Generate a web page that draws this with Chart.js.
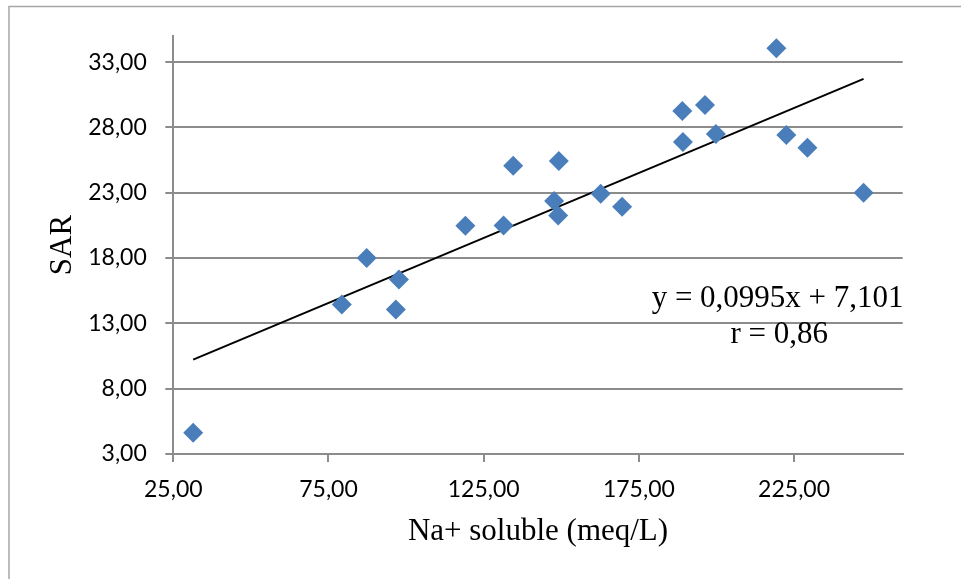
<!DOCTYPE html>
<html>
<head>
<meta charset="utf-8">
<script src="https://cdn.jsdelivr.net/npm/chart.js@4/dist/chart.umd.min.js"></script>
<style>
  html, body { margin: 0; padding: 0; background: #fff; }
  canvas { display: block; }
</style>
</head>
<body>
<canvas id="myChart" width="961" height="579"></canvas>
<script>
// Na+ soluble (meq/L) vs SAR
const naSoluble = [31.4, 79.3, 87.3, 96.7, 97.7, 119.1, 131.4, 134.5, 147.7, 149.0, 149.2,
                   162.7, 169.6, 189.0, 189.2, 196.3, 199.8, 219.3, 222.5, 229.3, 247.4];
const sar = [4.63, 14.45, 18.0, 14.07, 16.36, 20.48, 20.5, 25.06, 22.36, 21.26, 25.44,
             22.92, 21.93, 29.26, 26.89, 29.72, 27.5, 34.07, 27.43, 26.44, 23.0];

const xTicks = [25, 75, 125, 175, 225];
const yTicks = [3, 8, 13, 18, 23, 28, 33];

// trend line shown on the chart
const slope = 0.0995;
const intercept = 7.101;
const eqText = 'y = 0,0995x + 7,101';
const rText = 'r = 0,86';

const xMin = Math.min(...naSoluble);
const xMax = Math.max(...naSoluble);
const trend = [
  { x: xMin, y: slope * xMin + intercept },
  { x: xMax, y: slope * xMax + intercept }
];

const points = naSoluble.map((v, i) => ({ x: v, y: sar[i] }));

const fmt = v => Number(v).toFixed(2).replace('.', ',');
const serif = 'Liberation Serif';
const gridColor = '#8c8c8c';

// gray frame round the chart + equation text
const extras = {
  id: 'extras',
  beforeDraw(chart) {
    const ctx = chart.ctx;
    ctx.save();
    ctx.strokeStyle = '#a6a6a6';
    ctx.lineWidth = 1.5;
    ctx.strokeRect(9, 6.5, 1000, 1000);
    ctx.restore();
  },
  afterDraw(chart) {
    const ctx = chart.ctx;
    const xs = chart.scales.x, ys = chart.scales.y;
    ctx.save();
    ctx.fillStyle = '#000';
    ctx.font = '31px "' + serif + '"';
    ctx.textAlign = 'center';
    ctx.textBaseline = 'alphabetic';
    ctx.fillText(eqText, xs.getPixelForValue(219.7), ys.getPixelForValue(14.24));
    ctx.fillText(rText, xs.getPixelForValue(220.2), ys.getPixelForValue(11.47));
    ctx.restore();
  }
};

const ctx = document.getElementById('myChart').getContext('2d');
new Chart(ctx, {
  type: 'scatter',
  data: {
    datasets: [{
      label: 'SAR',
      data: points,
      pointStyle: 'rectRot',
      pointRadius: 10,
      pointBorderWidth: 0,
      backgroundColor: '#4a7ebb',
      borderColor: '#4a7ebb'
    }, {
      type: 'line',
      label: 'tendance',
      data: trend,
      borderColor: '#000',
      borderWidth: 2,
      pointRadius: 0,
      fill: false
    }]
  },
  options: {
    responsive: false,
    animation: false,
    layout: { padding: { top: 36, right: 58.3, left: 0, bottom: 0 } },
    plugins: { legend: { display: false }, tooltip: { enabled: false } },
    scales: {
      x: {
        type: 'linear',
        min: 25,
        max: 260,
        afterBuildTicks: s => { s.ticks = xTicks.map(v => ({ value: v })); },
        afterFit: s => { s.height = 125; },
        grid: { drawOnChartArea: false, drawTicks: true, tickLength: 8, color: gridColor, lineWidth: 2 },
        border: { display: true, color: gridColor, width: 2 },
        ticks: { color: '#000', padding: 14, font: { family: 'Lato', size: 23 }, callback: fmt, maxRotation: 0 },
        title: { display: true, text: 'Na+ soluble (meq/L)', color: '#000',
                 font: { family: serif, size: 31 }, padding: { bottom: 29 } }
      },
      y: {
        type: 'linear',
        min: 3,
        max: 35,
        afterBuildTicks: s => { s.ticks = yTicks.map(v => ({ value: v })); },
        afterFit: s => { s.width = 173.3; },
        grid: { drawTicks: true, tickLength: 8, color: gridColor, lineWidth: 2 },
        border: { display: true, color: gridColor, width: 2 },
        ticks: { color: '#000', padding: 18.5, font: { family: 'Lato', size: 23 }, callback: fmt },
        title: { display: true, text: 'SAR', color: '#000',
                 font: { family: serif, size: 31 }, padding: { top: 44 } }
      }
    }
  },
  plugins: [extras]
});
</script>
</body>
</html>
